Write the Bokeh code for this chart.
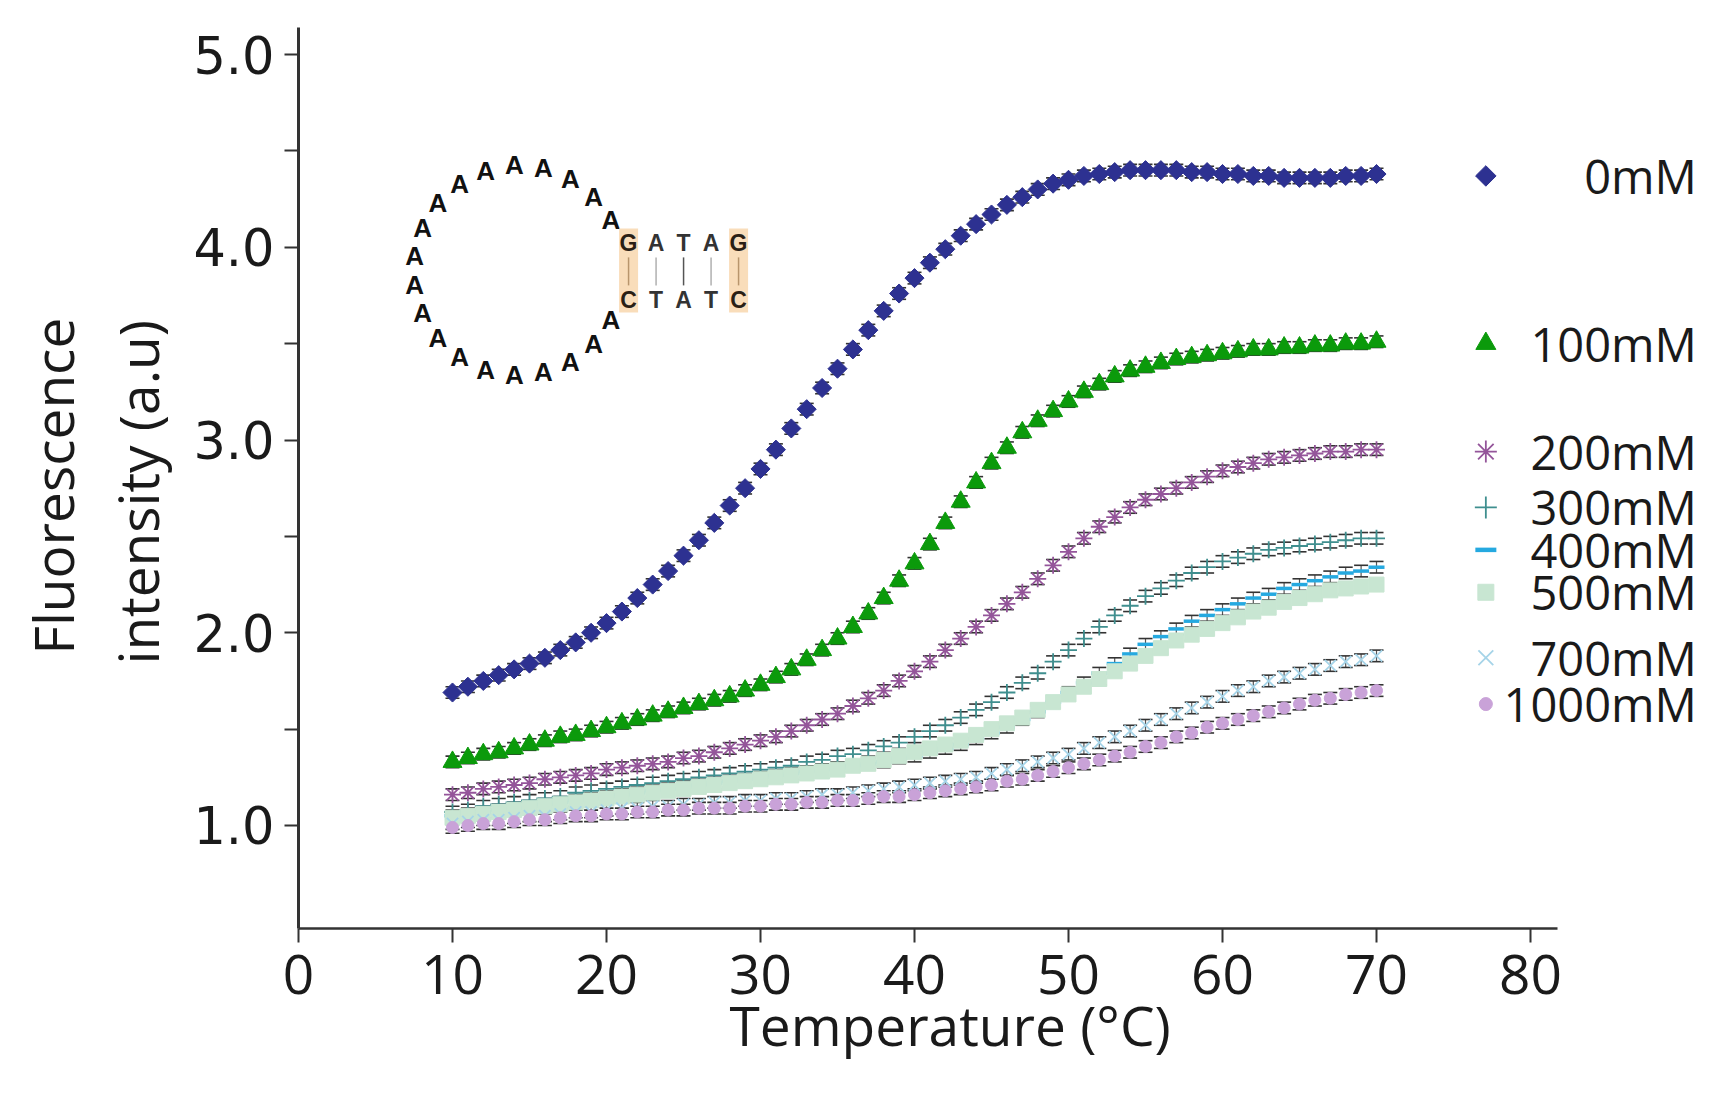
import math
from bokeh.plotting import figure
from bokeh.models import Range1d, FixedTicker, PrintfTickFormatter, Title, Whisker, TeeHead, ColumnDataSource
from bokeh.core.properties import value
from bokeh.embed import file_html
from bokeh.resources import INLINE

# ---------------- data ----------------
temperature = list(range(10, 71))

mM0 = [1.69, 1.72, 1.75, 1.78, 1.81, 1.84, 1.87, 1.91, 1.95, 2.00,
       2.05, 2.11, 2.18, 2.25, 2.32, 2.40, 2.48, 2.57, 2.66, 2.75,
       2.85, 2.95, 3.06, 3.16, 3.27, 3.37, 3.47, 3.57, 3.67, 3.76,
       3.84, 3.92, 3.99, 4.06, 4.12, 4.17, 4.22, 4.26, 4.30, 4.33,
       4.35, 4.37, 4.38, 4.39, 4.40, 4.40, 4.40, 4.40, 4.39, 4.39,
       4.38, 4.38, 4.37, 4.37, 4.36, 4.36, 4.36, 4.36, 4.37, 4.37, 4.38]
mM100 = [1.33, 1.35, 1.37, 1.38, 1.40, 1.42, 1.44, 1.46, 1.47, 1.49,
         1.51, 1.53, 1.55, 1.57, 1.59, 1.61, 1.63, 1.65, 1.67, 1.70,
         1.73, 1.77, 1.81, 1.86, 1.91, 1.97, 2.03, 2.10, 2.18, 2.27,
         2.36, 2.46, 2.57, 2.68, 2.78, 2.88, 2.96, 3.04, 3.10, 3.15,
         3.20, 3.25, 3.29, 3.33, 3.36, 3.38, 3.40, 3.42, 3.43, 3.44,
         3.45, 3.46, 3.47, 3.47, 3.48, 3.48, 3.49, 3.49, 3.50, 3.50, 3.51]
mM200 = [1.16, 1.17, 1.19, 1.20, 1.21, 1.22, 1.24, 1.25, 1.26, 1.27,
         1.29, 1.30, 1.31, 1.32, 1.33, 1.35, 1.36, 1.38, 1.40, 1.42,
         1.44, 1.46, 1.49, 1.52, 1.55, 1.58, 1.62, 1.66, 1.70, 1.75,
         1.80, 1.85, 1.91, 1.97, 2.03, 2.09, 2.15, 2.21, 2.28, 2.35,
         2.42, 2.49, 2.55, 2.60, 2.65, 2.69, 2.72, 2.75, 2.78, 2.81,
         2.84, 2.86, 2.88, 2.90, 2.91, 2.92, 2.93, 2.94, 2.94, 2.95, 2.95]
mM300 = [1.07, 1.08, 1.10, 1.11, 1.12, 1.13, 1.14, 1.15, 1.17, 1.18,
         1.19, 1.20, 1.21, 1.22, 1.23, 1.24, 1.25, 1.26, 1.27, 1.28,
         1.29, 1.30, 1.31, 1.33, 1.34, 1.36, 1.37, 1.39, 1.41, 1.43,
         1.46, 1.49, 1.52, 1.56, 1.60, 1.64, 1.69, 1.74, 1.79, 1.85,
         1.91, 1.97, 2.03, 2.09, 2.14, 2.19, 2.23, 2.27, 2.31, 2.34,
         2.37, 2.39, 2.41, 2.43, 2.44, 2.45, 2.46, 2.47, 2.48, 2.49, 2.49]
mM400 = [1.05, 1.06, 1.07, 1.08, 1.09, 1.10, 1.11, 1.12, 1.13, 1.14,
         1.15, 1.16, 1.17, 1.18, 1.19, 1.20, 1.21, 1.22, 1.23, 1.24,
         1.25, 1.26, 1.27, 1.28, 1.29, 1.30, 1.31, 1.32, 1.33, 1.35,
         1.36, 1.38, 1.40, 1.42, 1.45, 1.48, 1.51, 1.55, 1.59, 1.64,
         1.69, 1.74, 1.79, 1.84, 1.89, 1.94, 1.98, 2.02, 2.06, 2.09,
         2.12, 2.15, 2.18, 2.20, 2.23, 2.25, 2.27, 2.29, 2.31, 2.32, 2.34]
mM500 = [1.04, 1.05, 1.06, 1.07, 1.08, 1.09, 1.10, 1.11, 1.12, 1.13,
         1.14, 1.15, 1.16, 1.17, 1.18, 1.19, 1.20, 1.21, 1.22, 1.23,
         1.24, 1.25, 1.26, 1.27, 1.28, 1.29, 1.31, 1.32, 1.34, 1.36,
         1.38, 1.40, 1.42, 1.44, 1.47, 1.50, 1.53, 1.56, 1.60, 1.64,
         1.68, 1.72, 1.76, 1.80, 1.84, 1.88, 1.92, 1.96, 1.99, 2.02,
         2.05, 2.08, 2.11, 2.13, 2.16, 2.18, 2.20, 2.22, 2.23, 2.24, 2.25]
mM700 = [1.01, 1.02, 1.03, 1.03, 1.04, 1.05, 1.05, 1.06, 1.07, 1.07,
         1.08, 1.09, 1.09, 1.10, 1.10, 1.11, 1.11, 1.12, 1.12, 1.13,
         1.13, 1.14, 1.14, 1.15, 1.16, 1.16, 1.17, 1.18, 1.19, 1.20,
         1.21, 1.22, 1.23, 1.24, 1.25, 1.27, 1.29, 1.31, 1.33, 1.35,
         1.37, 1.40, 1.43, 1.46, 1.49, 1.52, 1.55, 1.58, 1.61, 1.64,
         1.67, 1.70, 1.72, 1.75, 1.77, 1.79, 1.81, 1.83, 1.85, 1.86, 1.88]
mM1000 = [0.99, 1.00, 1.01, 1.01, 1.02, 1.03, 1.03, 1.04, 1.05, 1.05,
          1.06, 1.06, 1.07, 1.07, 1.08, 1.08, 1.09, 1.09, 1.09, 1.10,
          1.10, 1.11, 1.11, 1.12, 1.12, 1.13, 1.13, 1.14, 1.15, 1.15,
          1.16, 1.17, 1.18, 1.19, 1.20, 1.21, 1.23, 1.24, 1.26, 1.28,
          1.30, 1.32, 1.34, 1.36, 1.38, 1.41, 1.43, 1.46, 1.48, 1.51,
          1.53, 1.55, 1.57, 1.59, 1.61, 1.63, 1.65, 1.66, 1.68, 1.69, 1.70]

series_labels = ["0mM", "100mM", "200mM", "300mM", "400mM", "500mM", "700mM", "1000mM"]
series_values = [mM0, mM100, mM200, mM300, mM400, mM500, mM700, mM1000]
error_half = 0.03  # approximate SEM read from the caps

x_ticks = [0, 10, 20, 30, 40, 50, 60, 70, 80]
y_ticks = [1.0, 2.0, 3.0, 4.0, 5.0]
y_minor = [1.5, 2.5, 3.5, 4.5]

loop_seq = "A" * 20
stem_top = "GATAG"
stem_bottom = "CTATC"

# ---------------- styles / layout ----------------
markers = ["square", "triangle", "asterisk", "cross", "dash", "square", "x", "circle"]
angles = [math.pi / 4, 0, 0, 0, 0, 0, 0, 0]
colors = ["#2d3191", "#0b9a0b", "#94559a", "#3f8f8f", "#25a9e0", "#c8e6d2", "#a6d4e8", "#c9a2d8"]
sizes = [13.5, 19, 17, 17, 16, 15, 16, 12]
legend_y = [4.37, 3.50, 2.94, 2.65, 2.43, 2.21, 1.87, 1.63]
legend_marker_x = 77.1
legend_text_x = 90.8

W, H = 1720, 1095
BL, BT = 298, 18
FRAME_R, FRAME_B = 1708, 928
BR, BB = W - FRAME_R, H - FRAME_B
X0, X1 = 0.0, 91.558
Y0, Y1 = 0.4656, 5.1869
FW, FH = FRAME_R - BL, FRAME_B - BT
PXX = FW / (X1 - X0)
PXY = FH / (Y1 - Y0)

p = figure(width=W, height=H, x_range=Range1d(X0, X1), y_range=Range1d(Y0, Y1),
           output_backend="svg", toolbar_location=None,
           min_border_left=BL, min_border_right=BR, min_border_top=BT, min_border_bottom=BB)
p.outline_line_color = None
p.grid.visible = False
p.background_fill_color = "white"
p.border_fill_color = "white"

axis_color = "#333333"
p.xaxis.bounds = (0, 81.75)
p.yaxis.bounds = (Y0, 5.14)
p.xaxis.ticker = FixedTicker(ticks=x_ticks)
p.yaxis.ticker = FixedTicker(ticks=y_ticks, minor_ticks=y_minor)
p.yaxis.formatter = PrintfTickFormatter(format="%.1f")
for ax in (p.xaxis, p.yaxis):
    ax.axis_line_color = axis_color
    ax.major_tick_line_color = axis_color
    ax.minor_tick_line_color = axis_color
    ax.major_tick_in = 0
    ax.major_tick_out = 14
    ax.minor_tick_in = 0
    ax.minor_tick_out = 14
    ax.major_tick_line_width = 2
    ax.minor_tick_line_width = 2
    ax.major_label_text_color = "#1a1a1a"
p.xaxis.minor_tick_line_color = None
p.yaxis.axis_line_width = 3
p.xaxis.axis_line_width = 2.5
p.xaxis.major_label_text_font = "Open Sans"
p.xaxis.major_label_text_font_size = "55px"
p.xaxis.major_label_standoff = 12
p.yaxis.major_label_text_font = "DejaVu Sans"
p.yaxis.major_label_text_font_size = "51px"
p.yaxis.major_label_standoff = 10

# ---------------- series ----------------
for lab, vals, mk, ang, col, sz in zip(series_labels, series_values, markers, angles, colors, sizes):
    src = ColumnDataSource(dict(x=temperature, y=vals,
                                lo=[v - error_half for v in vals],
                                hi=[v + error_half for v in vals]))
    p.add_layout(Whisker(base="x", lower="lo", upper="hi", source=src,
                         line_color="#555555", line_width=1.2,
                         lower_head=TeeHead(size=14, line_color="#333333", line_width=1.6),
                         upper_head=TeeHead(size=14, line_color="#333333", line_width=1.6)))
    if mk in ("asterisk", "cross", "dash", "x"):
        p.scatter("x", "y", source=src, marker=mk, size=sz, line_color=col,
                  line_width=3.5 if mk == "dash" else 1.8)
    else:
        p.scatter("x", "y", source=src, marker=mk, size=sz, angle=ang, fill_color=col, line_color=col)

# legend (manual, right side)
for lab, mk, ang, col, sz, ly in zip(series_labels, markers, angles, colors, sizes, legend_y):
    if mk in ("asterisk", "cross", "dash", "x"):
        p.scatter([legend_marker_x], [ly], marker=mk, size=sz + 5, line_color=col,
                  line_width=4.5 if mk == "dash" else 1.8)
    else:
        p.scatter([legend_marker_x], [ly], marker=mk, size=sz + 1, angle=ang, fill_color=col, line_color=col)
    p.text([legend_text_x], [ly], text=[lab], text_align="right", text_baseline="middle",
           text_font=value("Open Sans"), text_font_size="47px", text_color="#1a1a1a")

# ---------------- hairpin inset ----------------
cx, cy = 14.29, 3.88      # loop centre (data)
r_px = 105
n = len(loop_seq)
a0, a1 = 28.5, 331.5
lx, ly_, lt = [], [], []
for i, ch in enumerate(loop_seq):
    ang = math.radians(a0 + (a1 - a0) * i / (n - 1))
    lx.append(cx + r_px * math.cos(ang) / PXX)
    ly_.append(cy + r_px * math.sin(ang) / PXY)
    lt.append(ch)
p.text(lx, ly_, text=lt, text_align="center", text_baseline="middle",
       text_font=value("Liberation Sans"), text_font_style="bold",
       text_font_size="26px", text_color="#111111")

col_dx = [110 + 27.5 * i for i in range(len(stem_top))]
sx = [cx + d / PXX for d in col_dx]
gc = [0, len(stem_top) - 1]
p.rect([sx[i] for i in gc], [cy] * 2, width=19, height=84,
       width_units="screen", height_units="screen",
       fill_color="#f8d9b2", line_color=None, fill_alpha=0.9)
p.segment(sx, [cy + 13 / PXY] * 5, sx, [cy - 15 / PXY] * 5,
          line_color=["#b8956c", "#b0b0b0", "#555555", "#b0b0b0", "#b8956c"], line_width=1.5)
p.text(sx, [cy + 27 / PXY] * 5, text=list(stem_top), text_align="center", text_baseline="middle",
       text_font=value("Liberation Sans"), text_font_style="bold", text_font_size="23px",
       text_color=["#2a2015", "#333333", "#333333", "#333333", "#2a2015"])
p.text(sx, [cy - 30 / PXY] * 5, text=list(stem_bottom), text_align="center", text_baseline="middle",
       text_font=value("Liberation Sans"), text_font_style="bold", text_font_size="23px",
       text_color=["#2a2015", "#333333", "#333333", "#333333", "#2a2015"])

# ---------------- axis titles ----------------
title_style = dict(text_font="Open Sans", text_font_size="55px", text_font_style="normal",
                   text_color="#1a1a1a")
p.add_layout(Title(text="intensity (a.u)", align="left", offset=264, standoff=32, **title_style), "left")
p.add_layout(Title(text="Fluorescence", align="left", offset=274, standoff=-16, **title_style), "left")
p.add_layout(Title(text="Temperature (°C)", align="left", offset=431, standoff=-24, **title_style), "below")

open("out.html", "w").write(file_html(p, INLINE))
